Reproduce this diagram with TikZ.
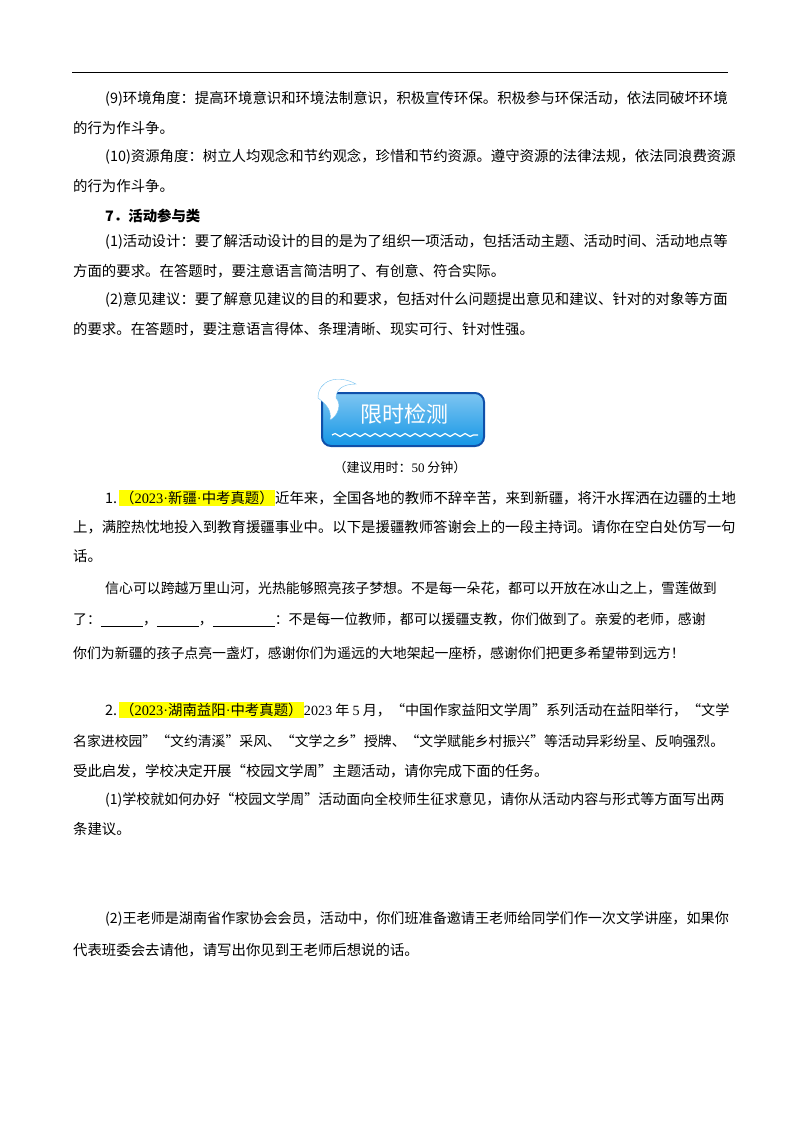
\documentclass[tikz,border=0pt]{standalone}
\usepackage{fontspec}
\setmainfont{Liberation Serif}
\newfontfamily\cjk{Noto Sans CJK SC}[Scale=1]
\newcommand{\dotc}{{\rmfamily\textperiodcentered}}
\usetikzlibrary{decorations.pathmorphing}
\definecolor{hl}{RGB}{255,255,0}
\definecolor{bnblue}{RGB}{20,150,230}
\definecolor{bndark}{RGB}{15,80,170}
\tikzset{txt/.style={anchor=west,inner sep=0pt,font=\cjk\fontsize{14.4bp}{16bp}\selectfont},
 itx/.style={anchor=west,inner sep=0pt,font=\cjk\fontsize{13.9bp}{15bp}\selectfont},
 hlbox/.style={fill=hl,anchor=west,inner sep=1pt,font=\cjk\fontsize{14.4bp}{16bp}\selectfont}}
\begin{document}
\begin{tikzpicture}[x=1bp,y=-1bp]
\useasboundingbox (0,0) rectangle (800,1132);
\draw[line width=1bp] (72,72) -- (728,72);
\node[txt] (a1) at (105,99) {(9)环境角度：提高环境意识和环境法制意识，积极宣传环保。积极参与环保活动，依法同破坏环境};
\node[txt] (a2) at (73,128) {的行为作斗争。};
\node[txt] (a3) at (105,157) {(10)资源角度：树立人均观念和节约观念，珍惜和节约资源。遵守资源的法律法规，依法同浪费资源};
\node[txt] (a4) at (73,186) {的行为作斗争。};
\node[txt,font=\cjk\bfseries\fontsize{14.4bp}{16bp}\selectfont] (a5) at (105,216) {7．活动参与类};
\node[txt] (a6) at (105,242) {(1)活动设计：要了解活动设计的目的是为了组织一项活动，包括活动主题、活动时间、活动地点等};
\node[txt] (a7) at (73,271) {方面的要求。在答题时，要注意语言简洁明了、有创意、符合实际。};
\node[txt] (a8) at (105,300) {(2)意见建议：要了解意见建议的目的和要求，包括对什么问题提出意见和建议、针对的对象等方面};
\node[txt] (a9) at (73,329) {的要求。在答题时，要注意语言得体、条理清晰、现实可行、针对性强。};
% banner
\draw[bndark,line width=2bp,rounded corners=9bp,top color=bnblue!55!white,bottom color=bnblue] (322,393) rectangle (484,446);
\node[font=\cjk\fontsize{22bp}{24bp}\selectfont,text=white] (bn) at (404,414) {限时检测};
\draw[white,line width=1.2bp,decorate,decoration={snake,segment length=10bp,amplitude=1.5bp}] (332,435) -- (478,435);
\fill[white,draw=bnblue!60!white] (318,398) .. controls (318,380) and (338,374) .. (356,384) .. controls (342,384) and (336,390) .. (336,398) .. controls (342,404) and (338,416) .. (330,420) .. controls (332,410) and (326,404) .. (318,398) -- cycle;
\node[txt,anchor=center,font=\cjk\fontsize{13bp}{15bp}\selectfont] (cap) at (400,468) {（建议用时：{\rmfamily 50} 分钟）};
% Q1
\node[txt] (q1n) at (105,498) {1.};
\node[hlbox] (q1h) at (119,498) {（{\rmfamily 2023}\dotc 新疆\dotc 中考真题）};
\node[txt] (q1t) at (q1h.east) {近年来，全国各地的教师不辞辛苦，来到新疆，将汗水挥洒在边疆的土地};
\node[txt] (q1b) at (73,527) {上，满腔热忱地投入到教育援疆事业中。以下是援疆教师答谢会上的一段主持词。请你在空白处仿写一句};
\node[txt] (q1c) at (73,556) {话。};
\node[itx] (i1) at (105,588) {信心可以跨越万里山河，光热能够照亮孩子梦想。不是每一朵花，都可以开放在冰山之上，雪莲做到};
\node[itx] (i2) at (73,620) {了：\underline{\hspace{42bp}}，\underline{\hspace{42bp}}，\underline{\hspace{62bp}}：不是每一位教师，都可以援疆支教，你们做到了。亲爱的老师，感谢};
\node[itx] (i3) at (73,653) {你们为新疆的孩子点亮一盏灯，感谢你们为遥远的大地架起一座桥，感谢你们把更多希望带到远方！};
% Q2
\node[txt] (q2n) at (105,710) {2.};
\node[hlbox] (q2h) at (119,710) {（{\rmfamily 2023}\dotc 湖南益阳\dotc 中考真题）};
\node[txt,font=\cjk\fontsize{14.1bp}{16bp}\selectfont] (q2t) at (q2h.east) {{\rmfamily 2023} 年 {\rmfamily 5} 月，“中国作家益阳文学周”系列活动在益阳举行，“文学};
\node[txt,font=\cjk\fontsize{13.85bp}{16bp}\selectfont] (q2b) at (73,741) {名家进校园”“文约清溪”采风、“文学之乡”授牌、“文学赋能乡村振兴”等活动异彩纷呈、反响强烈。};
\node[txt] (q2c) at (73,771) {受此启发，学校决定开展“校园文学周”主题活动，请你完成下面的任务。};
\node[txt,font=\cjk\fontsize{14bp}{16bp}\selectfont] (q2d) at (105,800) {(1)学校就如何办好“校园文学周”活动面向全校师生征求意见，请你从活动内容与形式等方面写出两};
\node[txt] (q2e) at (73,829) {条建议。};
\node[txt,font=\cjk\fontsize{14.1bp}{16bp}\selectfont] (q2f) at (105,919) {(2)王老师是湖南省作家协会会员，活动中，你们班准备邀请王老师给同学们作一次文学讲座，如果你};
\node[txt] (q2g) at (73,950) {代表班委会去请他，请写出你见到王老师后想说的话。};
\end{tikzpicture}
\end{document}
